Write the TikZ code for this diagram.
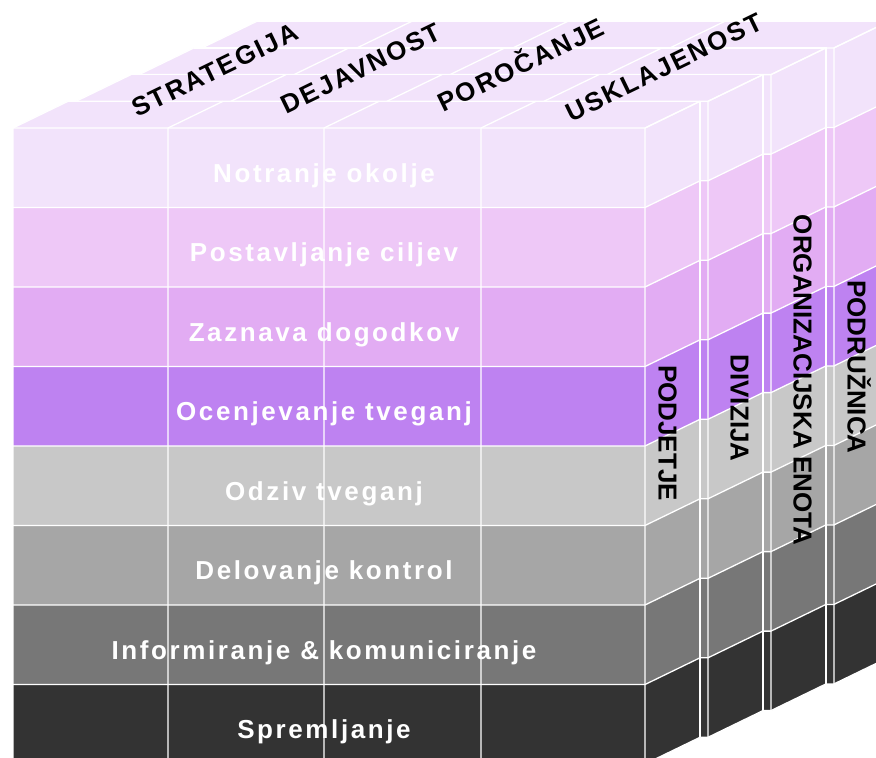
\documentclass[tikz,border=0pt]{standalone}
\usepackage{fontspec}
\setmainfont{Liberation Sans}
\newfontfamily\frontfont[LetterSpace=10]{Liberation Sans}
\newfontfamily\topfont[LetterSpace=8]{Liberation Sans}
\definecolor{ra}{HTML}{F2E3FB}
\definecolor{rb}{HTML}{EEC8F7}
\definecolor{rc}{HTML}{E2ACF3}
\definecolor{rd}{HTML}{BE82F1}
\definecolor{re}{HTML}{C8C8C8}
\definecolor{rf}{HTML}{A6A6A6}
\definecolor{rg}{HTML}{777777}
\definecolor{rh}{HTML}{333333}
\tikzset{
  grid/.style={draw=white, line width=1.3pt},
  frontlabel/.style={text=white, anchor=base, font=\frontfont\bfseries\fontsize{26}{30}\selectfont},
  toplabel/.style={text=black, rotate=25.9, text height=18.6pt, text depth=0pt, inner sep=0pt, font=\topfont\bfseries\fontsize{26}{30}\selectfont},
  sidelabel/.style={text=black, rotate=-90, text height=18.6pt, text depth=0pt, inner sep=0pt, font=\bfseries\fontsize{26}{30}\selectfont}
}
\begin{document}
\begin{tikzpicture}[x=1pt,y=-1pt]
\useasboundingbox (0,0) rectangle (876,758);
\clip (0,0) rectangle (876,758);
\foreach \k in {3,2,1,0} {
  \pgfmathsetmacro\ox{63*\k}
  \pgfmathsetmacro\oy{-26.7*\k}
  % fills
  \foreach \c [count=\r from 0] in {ra,rb,rc,rd,re,rf,rg,rh} {
    \pgfmathsetmacro\ya{128+79.5*\r+\oy}
    \fill[\c] (13+\ox,\ya) rectangle (645+\ox,\ya+79.5);
    \fill[\c] (645+\ox,\ya) -- ++(55,-26.7) -- ++(0,79.5) -- ++(-55,26.7) -- cycle;
  }
  \fill[ra] (13+\ox,128+\oy) -- ++(55,-26.7) -- ++(632,0) -- ++(-55,26.7) -- cycle;
  % lines
  \foreach \r in {0,...,8} {
    \pgfmathsetmacro\ya{128+79.5*\r+\oy}
    \draw[grid] (13+\ox,\ya) -- (645+\ox,\ya) -- ++(55,-26.7);
  }
  \foreach \xc in {13,168,324,481,645} {
    \draw[grid] (\xc+\ox,764+\oy) -- (\xc+\ox,128+\oy) -- ++(55,-26.7);
  }
  \draw[grid] (68+\ox,101.3+\oy) -- (700+\ox,101.3+\oy) -- (700+\ox,737.3+\oy);
}
% front labels
\foreach \t [count=\r from 0] in {Notranje okolje,Postavljanje ciljev,Zaznava dogodkov,Ocenjevanje tveganj,Odziv tveganj,Delovanje kontrol,Informiranje \& komuniciranje,Spremljanje} {
  \node[frontlabel] (l\r) at (324,{128+79.5*\r+54}) {\t};
}
% top labels
\node[toplabel] (t1) at (215,70) {STRATEGIJA};
\node[toplabel] (t2) at (361,68) {DEJAVNOST};
\node[toplabel] (t3) at (521,65) {POROČANJE};
\node[toplabel] (t4) at (664,67) {USKLAJENOST};
% side labels
\node[sidelabel] (s1) at (668,433) {PODJETJE};
\node[sidelabel] (s2) at (740,408) {DIVIZIJA};
\node[sidelabel] (s3) at (803,380) {ORGANIZACIJSKA ENOTA};
\node[sidelabel] (s4) at (857,367) {PODRUŽNICA};
\end{tikzpicture}
\end{document}
